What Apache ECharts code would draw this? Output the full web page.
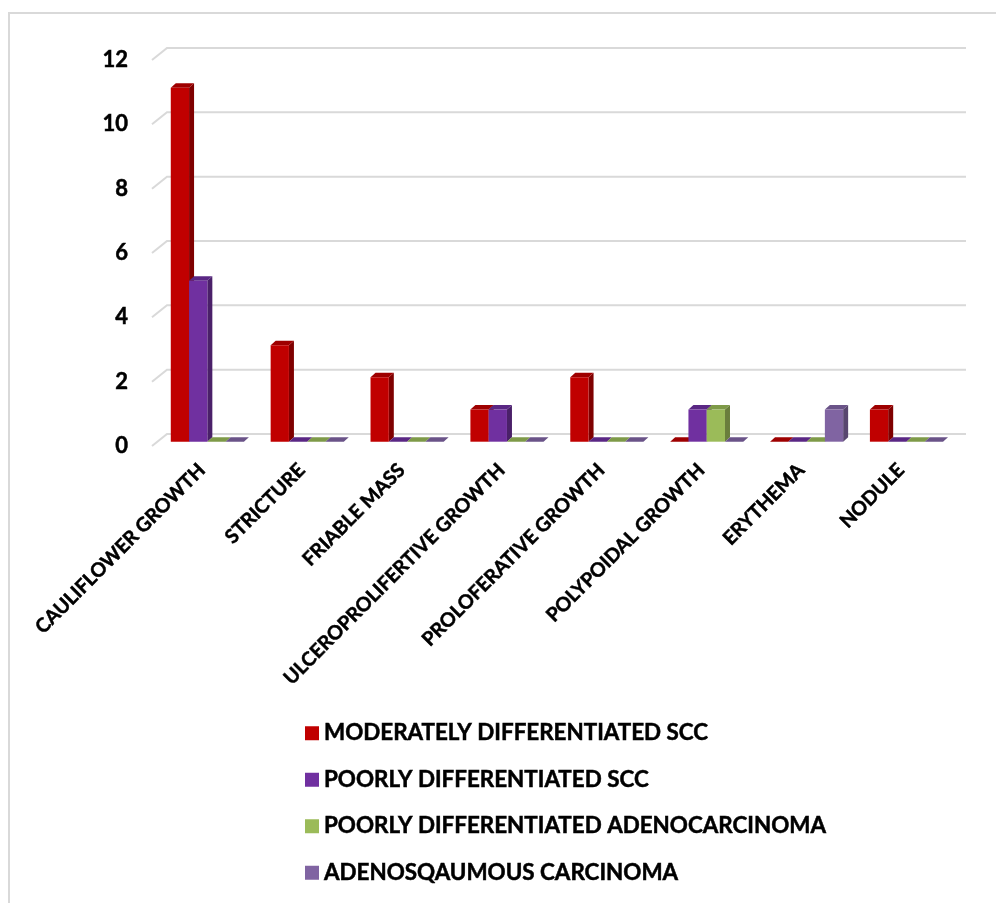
<!DOCTYPE html>
<html>
<head>
<meta charset="utf-8">
<script src="https://cdn.jsdelivr.net/npm/echarts@6/dist/echarts.min.js"></script>
<style>
  html, body { margin: 0; padding: 0; background: #ffffff; }
  #chart { width: 996px; height: 903px; }
</style>
</head>
<body>
<div id="chart"></div>
<script>
// Endoscopic appearance vs. histological type (counts)
const categories = [
  'CAULIFLOWER GROWTH', 'STRICTURE', 'FRIABLE MASS', 'ULCEROPROLIFERTIVE GROWTH',
  'PROLOFERATIVE GROWTH', 'POLYPOIDAL GROWTH', 'ERYTHEMA', 'NODULE'
];
const seriesNames = [
  'MODERATELY DIFFERENTIATED SCC',
  'POORLY DIFFERENTIATED SCC',
  'POORLY DIFFERENTIATED ADENOCARCINOMA',
  'ADENOSQAUMOUS CARCINOMA'
];
const moderatelyDiffSCC   = [11, 3, 2, 1, 2, 0, 0, 1];
const poorlyDiffSCC       = [5, 0, 0, 1, 0, 1, 0, 0];
const poorlyDiffAdeno     = [0, 0, 0, 0, 0, 1, 0, 0];
const adenosquamousCarc   = [0, 0, 0, 0, 0, 0, 1, 0];
const yTicks = [0, 2, 4, 6, 8, 10, 12];

const seriesValues = [moderatelyDiffSCC, poorlyDiffSCC, poorlyDiffAdeno, adenosquamousCarc];

// front / side / top shades for the pseudo-3D columns
const shades = [
  { front: '#C00000', side: '#7F0000', top: '#9E0000' },
  { front: '#7030A0', side: '#4A2069', top: '#5A2784' },
  { front: '#9BBB59', side: '#6A7E3C', top: '#7E9A48' },
  { front: '#8064A2', side: '#58466F', top: '#6A5388' }
];

// depth offsets (pixels) of the 3D look
const WALL_DX = 15, WALL_DY = -12;     // back wall relative to front edge
const BAR_FX = 5.4, BAR_FY = -4.3;     // column front face relative to front edge
const BAR_DX = 5, BAR_DY = -4.5;       // column depth
const BAR_FRAC = 0.183;                // column width as a share of a category band

function columnRenderer(idx) {
  const c = shades[idx];
  return function (params, api) {
    const cat = api.value(0);
    const val = api.value(1);
    const base = api.coord([cat, 0]);
    const top = api.coord([cat, val]);
    const band = api.size([1, 0])[0];
    const bw = band * BAR_FRAC;
    const x0 = base[0] - 2 * bw + idx * bw + BAR_FX;
    const x1 = x0 + bw;
    const yb = base[1] + BAR_FY;
    const yt = top[1] + BAR_FY;
    const kids = [];
    kids.push({
      type: 'polygon',
      shape: { points: [[x1, yb], [x1, yt], [x1 + BAR_DX, yt + BAR_DY], [x1 + BAR_DX, yb + BAR_DY]] },
      style: { fill: c.side }
    });
    kids.push({
      type: 'polygon',
      shape: { points: [[x0, yt], [x1, yt], [x1 + BAR_DX, yt + BAR_DY], [x0 + BAR_DX, yt + BAR_DY]] },
      style: { fill: c.top }
    });
    if (val > 0) {
      kids.push({
        type: 'rect',
        shape: { x: x0, y: yt, width: bw, height: yb - yt },
        style: { fill: c.front }
      });
    }
    return { type: 'group', children: kids };
  };
}

function wallRenderer(params, api) {
  const v = api.value(1);
  const p = api.coord([0, v]);
  const cs = params.coordSys;
  const xl = cs.x, xr = cs.x + cs.width;
  return {
    type: 'polyline',
    shape: { points: [[xl, p[1]], [xl + WALL_DX, p[1] + WALL_DY], [xr + WALL_DX, p[1] + WALL_DY]] },
    style: { stroke: '#D9D9D9', lineWidth: 2, fill: null }
  };
}

const FONT = 'Lato, "Open Sans", sans-serif';
const heavy = { color: '#000000', fontFamily: FONT, fontWeight: 'bold', textBorderColor: '#000000', textBorderWidth: 0.5 };

const series = [{
  type: 'custom',
  name: 'gridlines',
  renderItem: wallRenderer,
  data: yTicks.map(v => [0, v]),
  z: 1,
  silent: true
}];
seriesValues.forEach((vals, i) => {
  series.push({
    type: 'custom',
    name: seriesNames[i],
    renderItem: columnRenderer(i),
    itemStyle: { color: shades[i].front },
    data: vals.map((v, k) => [k, v]),
    z: 2
  });
});

const chart = echarts.init(document.getElementById('chart'), null, { renderer: 'canvas' });
chart.setOption({
  animation: false,
  backgroundColor: '#ffffff',
  graphic: [{
    type: 'rect',
    shape: { x: 9, y: 13, width: 1100, height: 1000 },
    style: { fill: null, stroke: '#D9D9D9', lineWidth: 2 },
    z: 0
  }],
  grid: { left: 152, right: 45, top: 60, bottom: 457 },
  xAxis: {
    type: 'category',
    data: categories,
    boundaryGap: true,
    axisLine: { show: false },
    axisTick: { show: false },
    axisLabel: Object.assign({
      rotate: 45,
      margin: 21,
      interval: 0,
      fontSize: 19.5
    }, heavy)
  },
  yAxis: {
    type: 'value',
    min: 0,
    max: 12,
    interval: 2,
    axisLine: { show: false },
    axisTick: { show: false },
    splitLine: { show: false },
    axisLabel: Object.assign({
      margin: 24,
      fontSize: 22
    }, heavy)
  },
  legend: {
    data: seriesNames,
    orient: 'vertical',
    left: 300,
    top: 717,
    icon: 'rect',
    itemWidth: 14,
    itemHeight: 14,
    itemGap: 24,
    textStyle: Object.assign({
      fontSize: 22.4,
      lineHeight: 22,
      padding: [0, 0, 0, 0]
    }, heavy),
    selectedMode: false
  },
  series: series
});
</script>
</body>
</html>
